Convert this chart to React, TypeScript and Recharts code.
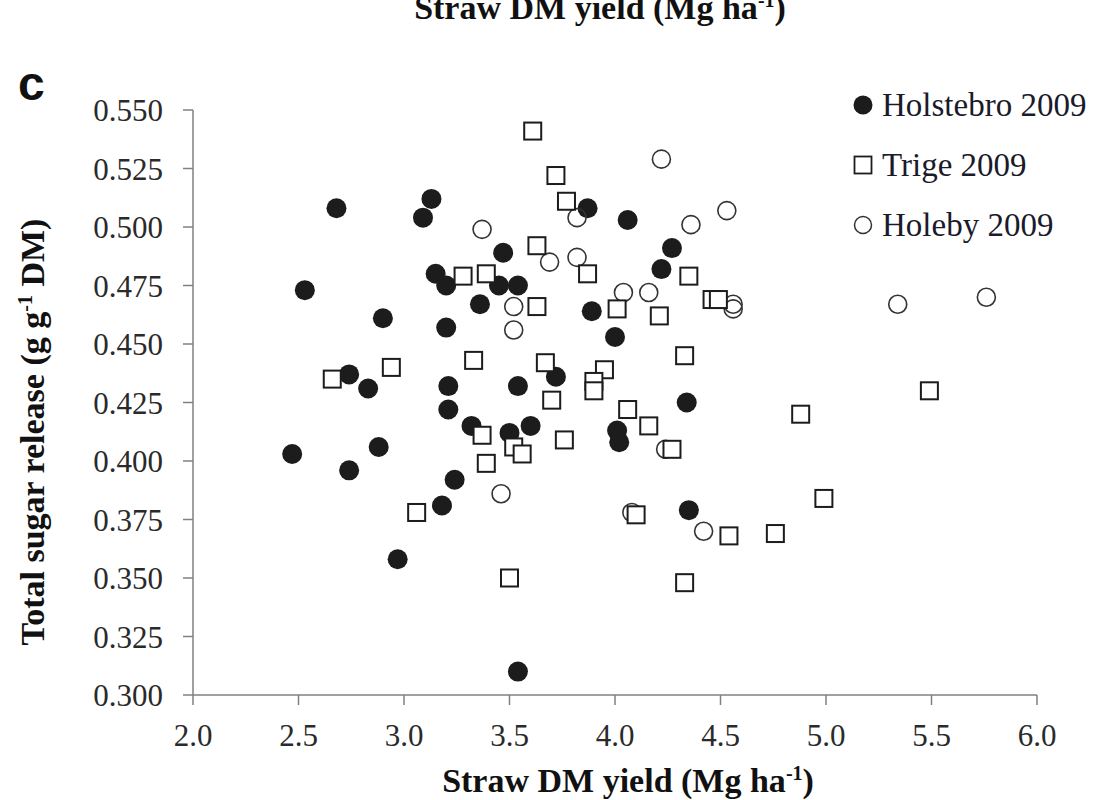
import { ScatterChart, Scatter, XAxis, YAxis } from 'recharts';

const xTicks = [2.0, 2.5, 3.0, 3.5, 4.0, 4.5, 5.0, 5.5, 6.0];
const yTicks = [0.3, 0.325, 0.35, 0.375, 0.4, 0.425, 0.45, 0.475, 0.5, 0.525, 0.55];

const seriesNames = ['Holstebro 2009', 'Trige 2009', 'Holeby 2009'];

// straw DM yield (Mg/ha) and total sugar release (g/g DM)
const holstebroYield = [
  2.68, 3.13, 3.09, 2.53, 3.15, 3.2, 2.9, 3.2, 3.36, 2.74, 2.83, 3.21, 3.21,
  3.87, 4.06, 3.47, 4.27, 4.22, 3.45, 3.54, 3.89, 4.0, 3.72, 3.54, 4.34,
  3.32, 3.5, 3.6, 4.01, 4.02, 3.24, 4.35, 3.54, 2.47, 2.88, 2.74, 3.18, 2.97,
];
const holstebroSugar = [
  0.508, 0.512, 0.504, 0.473, 0.48, 0.475, 0.461, 0.457, 0.467, 0.437, 0.431, 0.432, 0.422,
  0.508, 0.503, 0.489, 0.491, 0.482, 0.475, 0.475, 0.464, 0.453, 0.436, 0.432, 0.425,
  0.415, 0.412, 0.415, 0.413, 0.408, 0.392, 0.379, 0.31, 0.403, 0.406, 0.396, 0.381, 0.358,
];

const trigeYield = [
  3.28, 3.39, 2.66, 2.94, 3.33, 3.61, 3.72, 3.77, 3.63, 3.87, 4.35, 3.63, 4.01,
  4.21, 4.46, 4.49, 3.67, 3.95, 3.9, 3.9, 4.33, 3.7, 5.49, 4.88, 4.99, 4.76,
  4.06, 4.16, 3.37, 3.52, 3.56, 3.76, 3.39, 4.27, 4.1, 4.54, 3.5, 4.33, 3.06,
];
const trigeSugar = [
  0.479, 0.48, 0.435, 0.44, 0.443, 0.541, 0.522, 0.511, 0.492, 0.48, 0.479, 0.466, 0.465,
  0.462, 0.469, 0.469, 0.442, 0.439, 0.434, 0.43, 0.445, 0.426, 0.43, 0.42, 0.384, 0.369,
  0.422, 0.415, 0.411, 0.406, 0.403, 0.409, 0.399, 0.405, 0.377, 0.368, 0.35, 0.348, 0.378,
];

const holebyYield = [
  3.37, 4.22, 4.53, 4.36, 3.82, 3.69, 3.82, 4.04, 4.16, 4.56, 4.56, 3.52, 3.52,
  5.34, 5.76, 3.46, 4.42, 4.24, 4.08,
];
const holebySugar = [
  0.499, 0.529, 0.507, 0.501, 0.504, 0.485, 0.487, 0.472, 0.472, 0.467, 0.465, 0.466, 0.456,
  0.467, 0.47, 0.386, 0.37, 0.405, 0.378,
];

const toPoints = (xs: number[], ys: number[]) => xs.map((x, i) => ({ x, y: ys[i] }));

const holstebro = toPoints(holstebroYield, holstebroSugar);
const trige = toPoints(trigeYield, trigeSugar);
const holeby = toPoints(holebyYield, holebySugar);

const serif = '"Liberation Serif", "Times New Roman", serif';

const FilledDot = (p: any) => <circle cx={p.cx} cy={p.cy} r={10} fill="#1c1c1c" />;
const OpenSquare = (p: any) => (
  <rect x={p.cx - 8.5} y={p.cy - 8.5} width={17} height={17} fill="#fff" stroke="#1c1c1c" strokeWidth={2} />
);
const OpenDot = (p: any) => <circle cx={p.cx} cy={p.cy} r={9} fill="none" stroke="#333" strokeWidth={1.6} />;

const markerFor = (i: number) => {
  if (i === 0) return <circle cx={13} cy={13} r={9.5} fill="#1c1c1c" />;
  if (i === 1) return <rect x={4.5} y={4.5} width={17} height={17} fill="#fff" stroke="#1c1c1c" strokeWidth={1.8} />;
  return <circle cx={13} cy={13} r={8.5} fill="none" stroke="#333" strokeWidth={1.5} />;
};

const LegendBox = () => (
  <div style={{ position: 'absolute', left: 850, top: 75, fontFamily: serif, fontSize: 33, color: '#1a1a2a' }}>
    {seriesNames.map((name, i) => (
      <div key={name} style={{ display: 'flex', alignItems: 'center', height: 60 }}>
        <svg width={26} height={26}>{markerFor(i)}</svg>
        <span style={{ marginLeft: 6, lineHeight: 1 }}>{name}</span>
      </div>
    ))}
  </div>
);

const XTitle = (props: any) => {
  const { x, y, width } = props.viewBox;
  return (
    <text x={x + width / 2 + 13} y={y + 97} textAnchor="middle" fontFamily={serif} fontWeight="bold" fontSize={34} fill="#111">
      Straw DM yield (Mg ha
      <tspan dy={-12} fontSize={20}>-1</tspan>
      <tspan dy={12}>)</tspan>
    </text>
  );
};

const YTitle = () => (
  <text x={0} y={0} transform="translate(44, 432) rotate(-90)" textAnchor="middle" fontFamily={serif} fontWeight="bold" fontSize={34} fill="#111">
    Total sugar release (g g
    <tspan dy={-12} fontSize={20}>-1</tspan>
    <tspan dy={12}> DM)</tspan>
  </text>
);

export default function App() {
  return (
    <div style={{ position: 'absolute', left: 0, top: 0, width: 1097, height: 800, background: '#fff' }}>
      <svg width={1097} height={800} style={{ position: 'absolute', left: 0, top: 0 }}>
        <text x={600} y={19} textAnchor="middle" fontFamily={serif} fontWeight="bold" fontSize={34} fill="#111">
          Straw DM yield (Mg ha
          <tspan dy={-12} fontSize={20}>-1</tspan>
          <tspan dy={12}>)</tspan>
        </text>
        <text x={18} y={100} fontFamily='"Liberation Sans", Arial, sans-serif' fontWeight="bold" fontSize={48} fill="#111">
          c
        </text>
      </svg>
      <ScatterChart width={1097} height={800} margin={{ top: 110, right: 60, left: 0, bottom: 0 }} style={{ position: 'absolute', left: 0, top: 0 }}>
        <XAxis
          type="number"
          dataKey="x"
          domain={[2, 6]}
          ticks={xTicks}
          interval={0}
          tickFormatter={(v: number) => v.toFixed(1)}
          height={105}
          tickSize={10}
          tickMargin={19}
          stroke="#808080"
          strokeWidth={1.5}
          tick={{ fontFamily: serif, fontSize: 31, fill: '#2a2a2a' }}
          label={<XTitle />}
        />
        <YAxis
          type="number"
          dataKey="y"
          domain={[0.3, 0.55]}
          ticks={yTicks}
          interval={0}
          tickFormatter={(v: number) => v.toFixed(3)}
          width={193}
          tickSize={10}
          tickMargin={20}
          stroke="#808080"
          strokeWidth={1.5}
          tick={{ fontFamily: serif, fontSize: 31, fill: '#2a2a2a' }}
          label={<YTitle />}
        />
        <Scatter name={seriesNames[0]} data={holstebro} shape={FilledDot} isAnimationActive={false} />
        <Scatter name={seriesNames[2]} data={holeby} shape={OpenDot} isAnimationActive={false} />
        <Scatter name={seriesNames[1]} data={trige} shape={OpenSquare} isAnimationActive={false} />
      </ScatterChart>
      <LegendBox />
    </div>
  );
}
